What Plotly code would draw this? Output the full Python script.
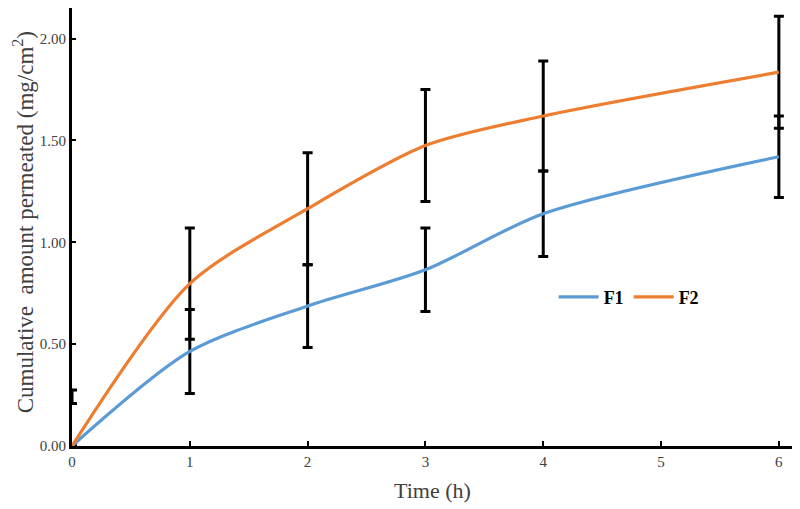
import plotly.graph_objects as go

time_h = [0, 1, 2, 3, 4, 6]
f1_mean = [0.0, 0.464, 0.687, 0.865, 1.14, 1.42]
f1_err = [0.0, 0.206, 0.203, 0.205, 0.21, 0.20]
f2_mean = [0.0, 0.797, 1.165, 1.475, 1.62, 1.835]
f2_err = [0.0, 0.273, 0.275, 0.275, 0.27, 0.275]
# stray error bar at t=0 seen in the reference
zero_bar_center = [0.242]
zero_bar_err = [0.033]

blue = "#5B9BD5"
orange = "#ED7D31"
serif = "Liberation Serif, Times New Roman, serif"

fig = go.Figure()

err_style = dict(type="data", color="black", thickness=3, width=5, visible=True)

fig.add_trace(go.Scatter(x=time_h, y=f1_mean, mode="markers", marker=dict(size=1, color="rgba(0,0,0,0)"),
                         error_y=dict(array=f1_err, **err_style), showlegend=False, hoverinfo="skip"))
fig.add_trace(go.Scatter(x=time_h, y=f2_mean, mode="markers", marker=dict(size=1, color="rgba(0,0,0,0)"),
                         error_y=dict(array=f2_err, **err_style), showlegend=False, hoverinfo="skip"))
fig.add_trace(go.Scatter(x=[0], y=zero_bar_center, mode="markers", marker=dict(size=1, color="rgba(0,0,0,0)"),
                         error_y=dict(array=zero_bar_err, **err_style), showlegend=False, hoverinfo="skip"))

fig.add_trace(go.Scatter(x=time_h, y=f1_mean, mode="lines", name="F1",
                         line=dict(color=blue, width=3.2, shape="spline", smoothing=0.8)))
fig.add_trace(go.Scatter(x=time_h, y=f2_mean, mode="lines", name="F2",
                         line=dict(color=orange, width=3.2, shape="spline", smoothing=0.8)))

fig.add_annotation(text="Cumulative  amount permeated (mg/cm<sup>2</sup>)",
                   xref="paper", yref="paper", x=-0.067, y=0.51, xanchor="center", yanchor="middle",
                   textangle=-90, showarrow=False,
                   font=dict(family=serif, size=23, color="#404040"))

fig.update_layout(
    width=800, height=509,
    paper_bgcolor="white", plot_bgcolor="white",
    margin=dict(l=64, r=15, t=0, b=71, autoexpand=False),
    font=dict(family=serif, color="#404040", size=15),
    legend=dict(orientation="h", x=0.668, y=0.34, xanchor="left", yanchor="middle",
                font=dict(family=serif, size=18, color="black", weight="bold"),
                bgcolor="rgba(0,0,0,0)", itemwidth=40, tracegroupgap=0),
    xaxis=dict(range=[0, 6.12], tickmode="array", tickvals=[0, 1, 2, 3, 4, 5, 6],
               ticktext=["0", "1", "2", "3", "4", "5", "6"], automargin=False,
               showgrid=False, zeroline=False, showline=True, linecolor="black", linewidth=3,
               ticks="inside", ticklen=5, tickwidth=2, tickcolor="black",
               tickfont=dict(family=serif, size=15, color="#404040"),
               title=dict(text="Time (h)", font=dict(family=serif, size=22, color="#404040"), standoff=14)),
    yaxis=dict(range=[0, 2.15], tickmode="array", tickvals=[0, 0.5, 1.0, 1.5, 2.0],
               ticktext=["0.00", "0.50", "1.00", "1.50", "2.00"], automargin=False,
               showgrid=False, zeroline=False, showline=True, linecolor="black", linewidth=3,
               ticks="inside", ticklen=4, tickwidth=2, tickcolor="black",
               tickfont=dict(family=serif, size=15, color="#404040")),
)

fig.write_html("out.html")
